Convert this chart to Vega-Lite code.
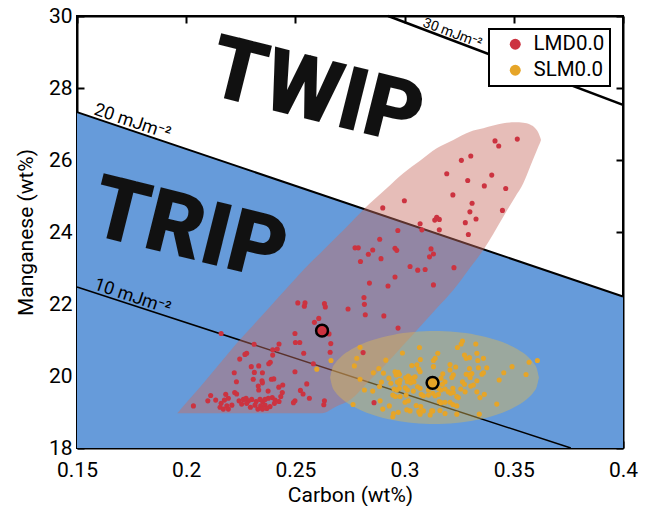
{
 "$schema": "https://vega.github.io/schema/vega-lite/v6.json",
 "width": 546,
 "height": 432,
 "autosize": "none",
 "padding": {"left": 77, "top": 16, "right": 25, "bottom": 58},
 "background": "white",
 "config": {
  "font": "Roboto",
  "view": {"stroke": "black", "strokeWidth": 2},
  "axis": {"grid": false, "zindex": 1, "domainColor": "black", "domainWidth": 2, "tickColor": "black", "tickWidth": 2, "tickSize": -7, "labelFont": "Roboto", "labelFontSize": 21, "labelColor": "black", "labelFlush": false, "labelOverlap": false, "titleFont": "Roboto", "titleFontSize": 21, "titleFontWeight": "normal", "titleColor": "black"}
 },
 "datasets": {
  "region": [{"C": 0.15, "Mn": 27.33, "Mn0": 18}, {"C": 0.4, "Mn": 22.21, "Mn0": 18}],
  "contours": [
   {"level": "10", "C": 0.15, "Mn": 22.47, "C2": 0.3761, "Mn2": 18},
   {"level": "20", "C": 0.15, "Mn": 27.33, "C2": 0.4, "Mn2": 22.21},
   {"level": "30", "C": 0.2925, "Mn": 30, "C2": 0.4, "Mn2": 27.53}
  ],
  "lab1": [{"t": "20 mJm⁻²", "C": 0.1569, "Mn": 27.19}, {"t": "10 mJm⁻²", "C": 0.1569, "Mn": 22.336}],
  "lab3": [{"t": "30 mJm⁻²", "C": 0.3075, "Mn": 29.637}],
  "big": [{"t": "TWIP", "C": 0.2594, "Mn": 27.82}, {"t": "TRIP", "C": 0.2012, "Mn": 24.0}],
  "ellRed": [
   {"C": 0.19592, "hi": 18.964, "lo": 18.964},
   {"C": 0.20174, "hi": 19.372, "lo": 18.964},
   {"C": 0.20783, "hi": 19.797, "lo": 18.964},
   {"C": 0.21548, "hi": 20.353, "lo": 18.964},
   {"C": 0.22312, "hi": 20.908, "lo": 18.964},
   {"C": 0.23059, "hi": 21.406, "lo": 18.964},
   {"C": 0.23837, "hi": 21.925, "lo": 18.964},
   {"C": 0.24570, "hi": 22.414, "lo": 18.964},
   {"C": 0.25362, "hi": 22.944, "lo": 18.964},
   {"C": 0.26204, "hi": 23.453, "lo": 18.964},
   {"C": 0.26891, "hi": 23.869, "lo": 19.158},
   {"C": 0.27500, "hi": 24.239, "lo": 19.333},
   {"C": 0.28416, "hi": 24.797, "lo": 19.889},
   {"C": 0.29180, "hi": 25.214, "lo": 20.353},
   {"C": 0.29940, "hi": 25.631, "lo": 20.858},
   {"C": 0.30705, "hi": 25.978, "lo": 21.369},
   {"C": 0.31470, "hi": 26.325, "lo": 21.881},
   {"C": 0.32230, "hi": 26.556, "lo": 22.389},
   {"C": 0.32995, "hi": 26.786, "lo": 23.008},
   {"C": 0.33603, "hi": 26.881, "lo": 23.500},
   {"C": 0.34519, "hi": 27.019, "lo": 24.425},
   {"C": 0.35055, "hi": 27.047, "lo": 24.967},
   {"C": 0.35435, "hi": 27.035, "lo": 25.353},
   {"C": 0.35742, "hi": 26.985, "lo": 25.806},
   {"C": 0.35971, "hi": 26.890, "lo": 26.144},
   {"C": 0.36131, "hi": 26.750, "lo": 26.383},
   {"C": 0.36215, "hi": 26.620, "lo": 26.500},
   {"C": 0.36245, "hi": 26.565, "lo": 26.555}
  ],
  "ellYel": [
   {"C": 0.2659, "hi": 19.96, "lo": 19.96},
   {"C": 0.2669, "hi": 20.217, "lo": 19.703},
   {"C": 0.2683, "hi": 20.362, "lo": 19.558},
   {"C": 0.2707, "hi": 20.522, "lo": 19.398},
   {"C": 0.2755, "hi": 20.734, "lo": 19.186},
   {"C": 0.2802, "hi": 20.881, "lo": 19.039},
   {"C": 0.2850, "hi": 20.992, "lo": 18.928},
   {"C": 0.2898, "hi": 21.077, "lo": 18.843},
   {"C": 0.2946, "hi": 21.142, "lo": 18.778},
   {"C": 0.2994, "hi": 21.191, "lo": 18.729},
   {"C": 0.3041, "hi": 21.224, "lo": 18.696},
   {"C": 0.3089, "hi": 21.244, "lo": 18.676},
   {"C": 0.3137, "hi": 21.250, "lo": 18.670},
   {"C": 0.3185, "hi": 21.244, "lo": 18.676},
   {"C": 0.3233, "hi": 21.224, "lo": 18.696},
   {"C": 0.3280, "hi": 21.191, "lo": 18.729},
   {"C": 0.3328, "hi": 21.142, "lo": 18.778},
   {"C": 0.3376, "hi": 21.077, "lo": 18.843},
   {"C": 0.3424, "hi": 20.992, "lo": 18.928},
   {"C": 0.3472, "hi": 20.881, "lo": 19.039},
   {"C": 0.3519, "hi": 20.734, "lo": 19.186},
   {"C": 0.3567, "hi": 20.522, "lo": 19.398},
   {"C": 0.3591, "hi": 20.362, "lo": 19.558},
   {"C": 0.3605, "hi": 20.217, "lo": 19.703},
   {"C": 0.3615, "hi": 19.96, "lo": 19.96}
  ],
  "means": [{"series": "LMD0.0", "C": 0.2622, "Mn": 21.26}, {"series": "SLM0.0", "C": 0.3128, "Mn": 19.81}],
  "pts": [
   {"series": "LMD0.0", "C": 0.3516, "Mn": 26.58}, {"series": "LMD0.0", "C": 0.3414, "Mn": 26.53}, {"series": "LMD0.0", "C": 0.3431, "Mn": 26.39},
   {"series": "LMD0.0", "C": 0.3303, "Mn": 26.11}, {"series": "LMD0.0", "C": 0.3260, "Mn": 25.99}, {"series": "LMD0.0", "C": 0.3193, "Mn": 25.62},
   {"series": "LMD0.0", "C": 0.3399, "Mn": 25.58}, {"series": "LMD0.0", "C": 0.3289, "Mn": 25.43}, {"series": "LMD0.0", "C": 0.3365, "Mn": 25.28},
   {"series": "LMD0.0", "C": 0.3463, "Mn": 25.21}, {"series": "LMD0.0", "C": 0.3221, "Mn": 25.03}, {"series": "LMD0.0", "C": 0.2999, "Mn": 24.87},
   {"series": "LMD0.0", "C": 0.3309, "Mn": 24.80}, {"series": "LMD0.0", "C": 0.2900, "Mn": 24.67}, {"series": "LMD0.0", "C": 0.3448, "Mn": 24.60},
   {"series": "LMD0.0", "C": 0.3299, "Mn": 24.56}, {"series": "LMD0.0", "C": 0.3147, "Mn": 24.41}, {"series": "LMD0.0", "C": 0.3138, "Mn": 24.33},
   {"series": "LMD0.0", "C": 0.3159, "Mn": 24.35}, {"series": "LMD0.0", "C": 0.3327, "Mn": 24.36}, {"series": "LMD0.0", "C": 0.3071, "Mn": 24.23},
   {"series": "LMD0.0", "C": 0.3278, "Mn": 24.26}, {"series": "LMD0.0", "C": 0.3079, "Mn": 24.06}, {"series": "LMD0.0", "C": 0.3159, "Mn": 24.06},
   {"series": "LMD0.0", "C": 0.2969, "Mn": 24.04}, {"series": "LMD0.0", "C": 0.3292, "Mn": 23.93}, {"series": "LMD0.0", "C": 0.2886, "Mn": 23.80},
   {"series": "LMD0.0", "C": 0.2773, "Mn": 23.56}, {"series": "LMD0.0", "C": 0.2788, "Mn": 23.56}, {"series": "LMD0.0", "C": 0.2854, "Mn": 23.50},
   {"series": "LMD0.0", "C": 0.2956, "Mn": 23.55}, {"series": "LMD0.0", "C": 0.2964, "Mn": 23.49}, {"series": "LMD0.0", "C": 0.3121, "Mn": 23.53},
   {"series": "LMD0.0", "C": 0.2834, "Mn": 23.38}, {"series": "LMD0.0", "C": 0.3132, "Mn": 23.39}, {"series": "LMD0.0", "C": 0.3114, "Mn": 23.31},
   {"series": "LMD0.0", "C": 0.2892, "Mn": 23.26}, {"series": "LMD0.0", "C": 0.2798, "Mn": 23.18}, {"series": "LMD0.0", "C": 0.3025, "Mn": 23.04},
   {"series": "LMD0.0", "C": 0.3226, "Mn": 23.01}, {"series": "LMD0.0", "C": 0.3060, "Mn": 22.94}, {"series": "LMD0.0", "C": 0.3094, "Mn": 22.96},
   {"series": "LMD0.0", "C": 0.3132, "Mn": 22.53},
   {"series": "LMD0.0", "C": 0.2956, "Mn": 22.75}, {"series": "LMD0.0", "C": 0.2839, "Mn": 22.58}, {"series": "LMD0.0", "C": 0.2924, "Mn": 22.50},
   {"series": "LMD0.0", "C": 0.2814, "Mn": 22.18}, {"series": "LMD0.0", "C": 0.2511, "Mn": 22.03}, {"series": "LMD0.0", "C": 0.2544, "Mn": 22.03},
   {"series": "LMD0.0", "C": 0.2541, "Mn": 21.94}, {"series": "LMD0.0", "C": 0.2633, "Mn": 22.01}, {"series": "LMD0.0", "C": 0.2637, "Mn": 21.92},
   {"series": "LMD0.0", "C": 0.2741, "Mn": 21.86}, {"series": "LMD0.0", "C": 0.2816, "Mn": 21.99}, {"series": "LMD0.0", "C": 0.2820, "Mn": 21.70},
   {"series": "LMD0.0", "C": 0.2905, "Mn": 21.67}, {"series": "LMD0.0", "C": 0.2607, "Mn": 21.60}, {"series": "LMD0.0", "C": 0.2587, "Mn": 21.49},
   {"series": "LMD0.0", "C": 0.2654, "Mn": 21.17}, {"series": "LMD0.0", "C": 0.2498, "Mn": 21.18}, {"series": "LMD0.0", "C": 0.2970, "Mn": 21.33},
   {"series": "LMD0.0", "C": 0.2160, "Mn": 21.18}, {"series": "LMD0.0", "C": 0.2520, "Mn": 20.93}, {"series": "LMD0.0", "C": 0.2500, "Mn": 20.93},
   {"series": "LMD0.0", "C": 0.2662, "Mn": 20.90}, {"series": "LMD0.0", "C": 0.2425, "Mn": 20.89}, {"series": "LMD0.0", "C": 0.2311, "Mn": 20.88},
   {"series": "LMD0.0", "C": 0.2659, "Mn": 20.66}, {"series": "LMD0.0", "C": 0.2538, "Mn": 20.63}, {"series": "LMD0.0", "C": 0.2582, "Mn": 20.34},
   {"series": "LMD0.0", "C": 0.2396, "Mn": 20.73}, {"series": "LMD0.0", "C": 0.2417, "Mn": 20.75}, {"series": "LMD0.0", "C": 0.2277, "Mn": 20.63},
   {"series": "LMD0.0", "C": 0.2269, "Mn": 20.60}, {"series": "LMD0.0", "C": 0.2396, "Mn": 20.58}, {"series": "LMD0.0", "C": 0.2245, "Mn": 20.47},
   {"series": "LMD0.0", "C": 0.2385, "Mn": 20.38}, {"series": "LMD0.0", "C": 0.2378, "Mn": 20.34}, {"series": "LMD0.0", "C": 0.2298, "Mn": 20.26},
   {"series": "LMD0.0", "C": 0.2332, "Mn": 20.28}, {"series": "LMD0.0", "C": 0.2498, "Mn": 20.12}, {"series": "LMD0.0", "C": 0.2220, "Mn": 20.09},
   {"series": "LMD0.0", "C": 0.2312, "Mn": 20.10}, {"series": "LMD0.0", "C": 0.2349, "Mn": 20.09}, {"series": "LMD0.0", "C": 0.2401, "Mn": 19.92},
   {"series": "LMD0.0", "C": 0.2390, "Mn": 19.91}, {"series": "LMD0.0", "C": 0.2347, "Mn": 19.87}, {"series": "LMD0.0", "C": 0.2349, "Mn": 19.81},
   {"series": "LMD0.0", "C": 0.2230, "Mn": 19.84}, {"series": "LMD0.0", "C": 0.2307, "Mn": 19.91}, {"series": "LMD0.0", "C": 0.2552, "Mn": 19.78},
   {"series": "LMD0.0", "C": 0.2442, "Mn": 19.75}, {"series": "LMD0.0", "C": 0.2424, "Mn": 19.69}, {"series": "LMD0.0", "C": 0.2330, "Mn": 19.72},
   {"series": "LMD0.0", "C": 0.2332, "Mn": 19.61}, {"series": "LMD0.0", "C": 0.2375, "Mn": 19.58}, {"series": "LMD0.0", "C": 0.2523, "Mn": 19.60},
   {"series": "LMD0.0", "C": 0.2535, "Mn": 19.50}, {"series": "LMD0.0", "C": 0.2112, "Mn": 19.46}, {"series": "LMD0.0", "C": 0.2181, "Mn": 19.49},
   {"series": "LMD0.0", "C": 0.2222, "Mn": 19.54}, {"series": "LMD0.0", "C": 0.2231, "Mn": 19.50}, {"series": "LMD0.0", "C": 0.2440, "Mn": 19.54},
   {"series": "LMD0.0", "C": 0.2433, "Mn": 19.43}, {"series": "LMD0.0", "C": 0.2564, "Mn": 19.38}, {"series": "LMD0.0", "C": 0.2099, "Mn": 19.31},
   {"series": "LMD0.0", "C": 0.2135, "Mn": 19.33}, {"series": "LMD0.0", "C": 0.2160, "Mn": 19.24}, {"series": "LMD0.0", "C": 0.2175, "Mn": 19.33},
   {"series": "LMD0.0", "C": 0.2193, "Mn": 19.38}, {"series": "LMD0.0", "C": 0.2242, "Mn": 19.31}, {"series": "LMD0.0", "C": 0.2262, "Mn": 19.35},
   {"series": "LMD0.0", "C": 0.2274, "Mn": 19.38}, {"series": "LMD0.0", "C": 0.2285, "Mn": 19.31}, {"series": "LMD0.0", "C": 0.2300, "Mn": 19.35},
   {"series": "LMD0.0", "C": 0.2320, "Mn": 19.29}, {"series": "LMD0.0", "C": 0.2338, "Mn": 19.35}, {"series": "LMD0.0", "C": 0.2350, "Mn": 19.29},
   {"series": "LMD0.0", "C": 0.2361, "Mn": 19.35}, {"series": "LMD0.0", "C": 0.2376, "Mn": 19.38}, {"series": "LMD0.0", "C": 0.2394, "Mn": 19.40},
   {"series": "LMD0.0", "C": 0.2407, "Mn": 19.33}, {"series": "LMD0.0", "C": 0.2425, "Mn": 19.29}, {"series": "LMD0.0", "C": 0.2498, "Mn": 19.31},
   {"series": "LMD0.0", "C": 0.2491, "Mn": 19.26}, {"series": "LMD0.0", "C": 0.2633, "Mn": 19.31}, {"series": "LMD0.0", "C": 0.2630, "Mn": 19.20},
   {"series": "LMD0.0", "C": 0.2033, "Mn": 19.17}, {"series": "LMD0.0", "C": 0.2155, "Mn": 19.13}, {"series": "LMD0.0", "C": 0.2186, "Mn": 19.17},
   {"series": "LMD0.0", "C": 0.2209, "Mn": 19.19}, {"series": "LMD0.0", "C": 0.2170, "Mn": 19.08}, {"series": "LMD0.0", "C": 0.2193, "Mn": 19.08},
   {"series": "LMD0.0", "C": 0.2254, "Mn": 19.22}, {"series": "LMD0.0", "C": 0.2277, "Mn": 19.24}, {"series": "LMD0.0", "C": 0.2315, "Mn": 19.19},
   {"series": "LMD0.0", "C": 0.2341, "Mn": 19.17}, {"series": "LMD0.0", "C": 0.2361, "Mn": 19.19}, {"series": "LMD0.0", "C": 0.2384, "Mn": 19.15},
   {"series": "LMD0.0", "C": 0.2404, "Mn": 19.24}, {"series": "LMD0.0", "C": 0.2294, "Mn": 19.13}, {"series": "LMD0.0", "C": 0.2328, "Mn": 19.08},
   {"series": "LMD0.0", "C": 0.2349, "Mn": 19.08}, {"series": "LMD0.0", "C": 0.2369, "Mn": 19.10}, {"series": "LMD0.0", "C": 0.2810, "Mn": 20.65},
   {"series": "LMD0.0", "C": 0.2860, "Mn": 19.26},
   {"series": "SLM0.0", "C": 0.2663, "Mn": 20.43}, {"series": "SLM0.0", "C": 0.2598, "Mn": 20.19}, {"series": "SLM0.0", "C": 0.2796, "Mn": 20.80},
   {"series": "SLM0.0", "C": 0.2781, "Mn": 20.49}, {"series": "SLM0.0", "C": 0.2770, "Mn": 20.28}, {"series": "SLM0.0", "C": 0.2796, "Mn": 19.91},
   {"series": "SLM0.0", "C": 0.2764, "Mn": 19.21}, {"series": "SLM0.0", "C": 0.2816, "Mn": 19.61}, {"series": "SLM0.0", "C": 0.2854, "Mn": 19.58},
   {"series": "SLM0.0", "C": 0.2857, "Mn": 20.09}, {"series": "SLM0.0", "C": 0.2882, "Mn": 20.21}, {"series": "SLM0.0", "C": 0.2903, "Mn": 20.08},
   {"series": "SLM0.0", "C": 0.2914, "Mn": 20.44}, {"series": "SLM0.0", "C": 0.2990, "Mn": 20.64}, {"series": "SLM0.0", "C": 0.3068, "Mn": 20.79},
   {"series": "SLM0.0", "C": 0.3033, "Mn": 20.29}, {"series": "SLM0.0", "C": 0.3056, "Mn": 20.31}, {"series": "SLM0.0", "C": 0.3072, "Mn": 20.46},
   {"series": "SLM0.0", "C": 0.3065, "Mn": 20.19}, {"series": "SLM0.0", "C": 0.3071, "Mn": 20.12}, {"series": "SLM0.0", "C": 0.3132, "Mn": 20.43},
   {"series": "SLM0.0", "C": 0.3140, "Mn": 20.49}, {"series": "SLM0.0", "C": 0.3152, "Mn": 20.63}, {"series": "SLM0.0", "C": 0.2956, "Mn": 20.12},
   {"series": "SLM0.0", "C": 0.2971, "Mn": 20.10}, {"series": "SLM0.0", "C": 0.2961, "Mn": 20.03}, {"series": "SLM0.0", "C": 0.2976, "Mn": 20.05},
   {"series": "SLM0.0", "C": 0.2928, "Mn": 19.94}, {"series": "SLM0.0", "C": 0.2894, "Mn": 19.83}, {"series": "SLM0.0", "C": 0.2885, "Mn": 19.71},
   {"series": "SLM0.0", "C": 0.2937, "Mn": 19.80}, {"series": "SLM0.0", "C": 0.2967, "Mn": 19.83}, {"series": "SLM0.0", "C": 0.2979, "Mn": 19.88},
   {"series": "SLM0.0", "C": 0.2976, "Mn": 19.79}, {"series": "SLM0.0", "C": 0.3005, "Mn": 19.95}, {"series": "SLM0.0", "C": 0.3017, "Mn": 20.00},
   {"series": "SLM0.0", "C": 0.3025, "Mn": 19.94}, {"series": "SLM0.0", "C": 0.3037, "Mn": 19.94}, {"series": "SLM0.0", "C": 0.3048, "Mn": 19.98},
   {"series": "SLM0.0", "C": 0.3013, "Mn": 19.84}, {"series": "SLM0.0", "C": 0.3028, "Mn": 19.81}, {"series": "SLM0.0", "C": 0.3043, "Mn": 19.84},
   {"series": "SLM0.0", "C": 0.2952, "Mn": 19.64}, {"series": "SLM0.0", "C": 0.2964, "Mn": 19.61}, {"series": "SLM0.0", "C": 0.2976, "Mn": 19.66},
   {"series": "SLM0.0", "C": 0.3003, "Mn": 19.67}, {"series": "SLM0.0", "C": 0.3013, "Mn": 19.61}, {"series": "SLM0.0", "C": 0.3059, "Mn": 19.70},
   {"series": "SLM0.0", "C": 0.3071, "Mn": 19.66}, {"series": "SLM0.0", "C": 0.2946, "Mn": 19.47}, {"series": "SLM0.0", "C": 0.2958, "Mn": 19.43},
   {"series": "SLM0.0", "C": 0.2979, "Mn": 19.43}, {"series": "SLM0.0", "C": 0.3007, "Mn": 19.47}, {"series": "SLM0.0", "C": 0.3040, "Mn": 19.58},
   {"series": "SLM0.0", "C": 0.3109, "Mn": 19.61}, {"series": "SLM0.0", "C": 0.3109, "Mn": 19.47}, {"series": "SLM0.0", "C": 0.3076, "Mn": 19.49},
   {"series": "SLM0.0", "C": 0.3086, "Mn": 19.45}, {"series": "SLM0.0", "C": 0.3129, "Mn": 19.52}, {"series": "SLM0.0", "C": 0.3140, "Mn": 19.45},
   {"series": "SLM0.0", "C": 0.3155, "Mn": 19.49}, {"series": "SLM0.0", "C": 0.2888, "Mn": 19.31}, {"series": "SLM0.0", "C": 0.2930, "Mn": 19.17},
   {"series": "SLM0.0", "C": 0.3002, "Mn": 19.27}, {"series": "SLM0.0", "C": 0.3017, "Mn": 19.31}, {"series": "SLM0.0", "C": 0.3053, "Mn": 19.18},
   {"series": "SLM0.0", "C": 0.3074, "Mn": 19.15}, {"series": "SLM0.0", "C": 0.2949, "Mn": 18.96}, {"series": "SLM0.0", "C": 0.2946, "Mn": 18.87},
   {"series": "SLM0.0", "C": 0.2971, "Mn": 18.99}, {"series": "SLM0.0", "C": 0.3010, "Mn": 19.06}, {"series": "SLM0.0", "C": 0.3025, "Mn": 19.03},
   {"series": "SLM0.0", "C": 0.3065, "Mn": 19.01}, {"series": "SLM0.0", "C": 0.3071, "Mn": 18.94}, {"series": "SLM0.0", "C": 0.3086, "Mn": 19.03},
   {"series": "SLM0.0", "C": 0.3117, "Mn": 18.92}, {"series": "SLM0.0", "C": 0.3129, "Mn": 19.03}, {"series": "SLM0.0", "C": 0.2900, "Mn": 19.08},
   {"series": "SLM0.0", "C": 0.3265, "Mn": 20.97}, {"series": "SLM0.0", "C": 0.3259, "Mn": 20.89}, {"series": "SLM0.0", "C": 0.3326, "Mn": 20.89},
   {"series": "SLM0.0", "C": 0.3242, "Mn": 20.79}, {"series": "SLM0.0", "C": 0.3274, "Mn": 20.58}, {"series": "SLM0.0", "C": 0.3282, "Mn": 20.49},
   {"series": "SLM0.0", "C": 0.3297, "Mn": 20.51}, {"series": "SLM0.0", "C": 0.3331, "Mn": 20.63}, {"series": "SLM0.0", "C": 0.3361, "Mn": 20.49},
   {"series": "SLM0.0", "C": 0.3335, "Mn": 20.43}, {"series": "SLM0.0", "C": 0.3208, "Mn": 20.32}, {"series": "SLM0.0", "C": 0.3234, "Mn": 20.25},
   {"series": "SLM0.0", "C": 0.3132, "Mn": 20.26}, {"series": "SLM0.0", "C": 0.3297, "Mn": 20.21}, {"series": "SLM0.0", "C": 0.3338, "Mn": 20.23},
   {"series": "SLM0.0", "C": 0.3376, "Mn": 20.23}, {"series": "SLM0.0", "C": 0.3208, "Mn": 20.17}, {"series": "SLM0.0", "C": 0.3175, "Mn": 20.06},
   {"series": "SLM0.0", "C": 0.3167, "Mn": 19.94}, {"series": "SLM0.0", "C": 0.3223, "Mn": 20.03}, {"series": "SLM0.0", "C": 0.3216, "Mn": 19.96},
   {"series": "SLM0.0", "C": 0.3282, "Mn": 20.05}, {"series": "SLM0.0", "C": 0.3297, "Mn": 20.03}, {"series": "SLM0.0", "C": 0.3308, "Mn": 20.07},
   {"series": "SLM0.0", "C": 0.3354, "Mn": 20.05}, {"series": "SLM0.0", "C": 0.3361, "Mn": 20.09}, {"series": "SLM0.0", "C": 0.3300, "Mn": 19.96},
   {"series": "SLM0.0", "C": 0.3570, "Mn": 20.38}, {"series": "SLM0.0", "C": 0.3608, "Mn": 20.43}, {"series": "SLM0.0", "C": 0.3492, "Mn": 20.26},
   {"series": "SLM0.0", "C": 0.3454, "Mn": 20.09}, {"series": "SLM0.0", "C": 0.3556, "Mn": 20.04}, {"series": "SLM0.0", "C": 0.3433, "Mn": 19.89},
   {"series": "SLM0.0", "C": 0.3331, "Mn": 19.87}, {"series": "SLM0.0", "C": 0.3265, "Mn": 19.84}, {"series": "SLM0.0", "C": 0.3274, "Mn": 19.77},
   {"series": "SLM0.0", "C": 0.3303, "Mn": 19.72}, {"series": "SLM0.0", "C": 0.3315, "Mn": 19.75}, {"series": "SLM0.0", "C": 0.3185, "Mn": 19.84},
   {"series": "SLM0.0", "C": 0.3173, "Mn": 19.77}, {"series": "SLM0.0", "C": 0.3155, "Mn": 19.66}, {"series": "SLM0.0", "C": 0.3166, "Mn": 19.61},
   {"series": "SLM0.0", "C": 0.3185, "Mn": 19.64}, {"series": "SLM0.0", "C": 0.3221, "Mn": 19.66}, {"series": "SLM0.0", "C": 0.3257, "Mn": 19.64},
   {"series": "SLM0.0", "C": 0.3277, "Mn": 19.56}, {"series": "SLM0.0", "C": 0.3200, "Mn": 19.56}, {"series": "SLM0.0", "C": 0.3211, "Mn": 19.52},
   {"series": "SLM0.0", "C": 0.3223, "Mn": 19.54}, {"series": "SLM0.0", "C": 0.3331, "Mn": 19.56}, {"series": "SLM0.0", "C": 0.3365, "Mn": 19.49},
   {"series": "SLM0.0", "C": 0.3239, "Mn": 19.43}, {"series": "SLM0.0", "C": 0.3246, "Mn": 19.40}, {"series": "SLM0.0", "C": 0.3345, "Mn": 19.40},
   {"series": "SLM0.0", "C": 0.3159, "Mn": 19.29}, {"series": "SLM0.0", "C": 0.3167, "Mn": 19.26}, {"series": "SLM0.0", "C": 0.3185, "Mn": 19.27},
   {"series": "SLM0.0", "C": 0.3208, "Mn": 19.27}, {"series": "SLM0.0", "C": 0.3221, "Mn": 19.21}, {"series": "SLM0.0", "C": 0.3239, "Mn": 19.17},
   {"series": "SLM0.0", "C": 0.3422, "Mn": 19.22}, {"series": "SLM0.0", "C": 0.3124, "Mn": 19.03}, {"series": "SLM0.0", "C": 0.3162, "Mn": 19.04},
   {"series": "SLM0.0", "C": 0.3185, "Mn": 18.96}, {"series": "SLM0.0", "C": 0.3239, "Mn": 18.94}, {"series": "SLM0.0", "C": 0.3342, "Mn": 18.94}
  ]
 },
 "layer": [
  {
   "data": {"name": "region"},
   "mark": {"type": "area", "color": "#669BDA", "opacity": 1},
   "encoding": {
    "x": {"field": "C", "type": "quantitative", "scale": {"domain": [0.15, 0.4], "nice": false, "zero": false},
          "axis": {"orient": "bottom", "values": [0.15, 0.2, 0.25, 0.3, 0.35, 0.4], "format": "~g", "title": "Carbon (wt%)", "labelPadding": 18, "titlePadding": 4}},
    "y": {"field": "Mn", "type": "quantitative", "scale": {"domain": [18, 30], "nice": false, "zero": false},
          "axis": {"orient": "left", "values": [18, 20, 22, 24, 26, 28, 30], "format": "~g", "title": "Manganese (wt%)", "labelPadding": 12, "titlePadding": 12}},
    "y2": {"field": "Mn0"}
   }
  },
  {
   "data": {"name": "contours"},
   "mark": {"type": "rule", "color": "black"},
   "encoding": {
    "x": {"field": "C", "type": "quantitative", "scale": {"domain": [0.15, 0.4], "nice": false, "zero": false},
          "axis": {"orient": "top", "values": [0.15, 0.2, 0.25, 0.3, 0.35, 0.4], "labels": false, "title": null}},
    "y": {"field": "Mn", "type": "quantitative", "scale": {"domain": [18, 30], "nice": false, "zero": false},
          "axis": {"orient": "right", "values": [18, 20, 22, 24, 26, 28, 30], "labels": false, "title": null}},
    "x2": {"field": "C2"},
    "y2": {"field": "Mn2"},
    "strokeWidth": {"field": "level", "type": "ordinal", "scale": {"domain": ["10", "20", "30"], "range": [1.5, 2.5, 1.5]}, "legend": null}
   }
  },
  {
   "data": {"name": "lab1"},
   "mark": {"type": "text", "align": "left", "baseline": "alphabetic", "angle": 18.5, "dy": -3, "fontSize": 18, "font": "Roboto", "color": "black"},
   "encoding": {
    "x": {"field": "C", "type": "quantitative", "axis": null},
    "y": {"field": "Mn", "type": "quantitative", "axis": null},
    "text": {"field": "t"}
   }
  },
  {
   "data": {"name": "lab3"},
   "mark": {"type": "text", "align": "left", "baseline": "alphabetic", "angle": 20.7, "dy": -3, "fontSize": 14, "font": "Roboto", "color": "black"},
   "encoding": {
    "x": {"field": "C", "type": "quantitative", "axis": null},
    "y": {"field": "Mn", "type": "quantitative", "axis": null},
    "text": {"field": "t"}
   }
  },
  {
   "data": {"name": "big"},
   "mark": {"type": "text", "align": "center", "baseline": "middle", "angle": 14, "fontSize": 88, "fontWeight": 900, "font": "Roboto", "color": "#111111"},
   "encoding": {
    "x": {"field": "C", "type": "quantitative", "axis": null},
    "y": {"field": "Mn", "type": "quantitative", "axis": null},
    "text": {"field": "t"}
   }
  },
  {
   "data": {"name": "ellRed"},
   "mark": {"type": "area", "color": "#C76C61", "opacity": 0.45, "interpolate": "monotone"},
   "encoding": {
    "x": {"field": "C", "type": "quantitative", "axis": null},
    "y": {"field": "hi", "type": "quantitative", "axis": null},
    "y2": {"field": "lo"}
   }
  },
  {
   "data": {"name": "ellYel"},
   "mark": {"type": "area", "color": "#DCB855", "opacity": 0.45, "interpolate": "monotone"},
   "encoding": {
    "x": {"field": "C", "type": "quantitative", "axis": null},
    "y": {"field": "hi", "type": "quantitative", "axis": null},
    "y2": {"field": "lo"}
   }
  },
  {
   "data": {"name": "pts"},
   "mark": {"type": "point", "shape": "circle", "filled": true, "size": 26, "opacity": 1, "strokeWidth": 0},
   "encoding": {
    "x": {"field": "C", "type": "quantitative", "axis": null},
    "y": {"field": "Mn", "type": "quantitative", "axis": null},
    "color": {"field": "series", "type": "nominal",
              "scale": {"domain": ["LMD0.0", "SLM0.0"], "range": ["#CC3340", "#E6A528"]},
              "legend": {"title": null, "orient": "top-right", "offset": 13, "symbolType": "circle", "symbolSize": 120, "symbolStrokeWidth": 0, "symbolOpacity": 1,
                         "labelFont": "Roboto", "labelFontSize": 20.5, "labelColor": "black", "padding": 5, "rowPadding": 5,
                         "symbolOffset": 11, "labelOffset": 8, "strokeColor": "black", "fillColor": "white",
                         "encode": {"legend": {"update": {"strokeWidth": {"value": 2}}}}}}
   }
  },
  {
   "data": {"name": "means"},
   "mark": {"type": "point", "shape": "circle", "filled": true, "size": 140, "opacity": 1, "stroke": "black", "strokeWidth": 2.5},
   "encoding": {
    "x": {"field": "C", "type": "quantitative", "axis": null},
    "y": {"field": "Mn", "type": "quantitative", "axis": null},
    "color": {"field": "series", "type": "nominal", "scale": {"domain": ["LMD0.0", "SLM0.0"], "range": ["#CC3340", "#E6A528"]}, "legend": null}
   }
  }
 ],
 "resolve": {"axis": {"x": "independent", "y": "independent"}}
}
